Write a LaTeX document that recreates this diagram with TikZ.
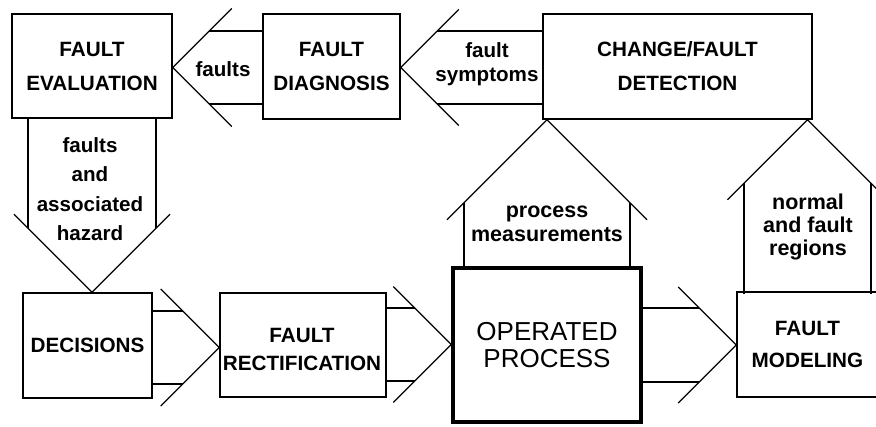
\documentclass[tikz,border=0pt]{standalone}
\usepackage{fontspec}
\setmainfont{Liberation Sans}
\usetikzlibrary{calc}
\begin{document}
\begin{tikzpicture}[x=1pt,y=-1pt,
  box/.style={draw, line width=1.6pt, inner sep=0pt, align=center,
    font=\bfseries\fontsize{20.7}{34}\selectfont},
  lbl/.style={inner sep=0pt, align=center,
    font=\bfseries\fontsize{20.6}{24}\selectfont},
  shaft/.style={line width=1.6pt},
  head/.style={line width=1.2pt},
  % hollow block arrow, tip at the origin, pointing along +x:
  % #1 half width of the shaft, #2 barb reach, #3 shaft length
  pics/hollow/.style n args={3}{code={
    \draw[head] (-#2,-#2) -- (0,0) -- (-#2,#2);
    \draw[shaft] (-#1,-#1) -- (-#3,-#1) (-#1,#1) -- (-#3,#1);
  }}]
\useasboundingbox (0,0) rectangle (876,426);
\clip (0,0) rectangle (876,426);

% blocks
\node[box, minimum width=160pt, minimum height=104pt] (eval) at (92,66)
  {FAULT\\EVALUATION};
\node[box, minimum width=137pt, minimum height=105pt] (diag) at (331.5,66.5)
  {FAULT\\DIAGNOSIS};
\node[box, minimum width=269pt, minimum height=105pt] (detect) at (677.5,66.5)
  {CHANGE/FAULT\\DETECTION};
\node[box, minimum width=129pt, minimum height=105pt] (decis) at (87.5,345.5)
  {DECISIONS};
\node[box, minimum width=166pt, minimum height=104pt] (rect) at (303,345) {};
\node[inner sep=0pt, align=center,
  font=\bfseries\fontsize{20.7}{28}\selectfont] (recttext) at (302,349)
  {FAULT\\RECTIFICATION};
\node[box, line width=3.4pt, minimum width=188pt, minimum height=154pt,
  font=\fontsize{26}{27}\selectfont] (proc) at (547,345)
  {OPERATED\\PROCESS};
\node[box, minimum width=141pt, minimum height=105pt,
  font=\bfseries\fontsize{20.7}{32}\selectfont] (model) at (807.5,344.5)
  {FAULT\\MODELING};

% hollow arrows between the blocks
\pic[rotate=180] at (eval.east |- 0,67.5) {hollow={36.5}{59}{91}};
\pic[rotate=180] at (diag.east |- 0,67.5) {hollow={36.5}{58}{142}};
\pic[rotate=-90] at (eval.south |- decis.north) {hollow={64}{78}{173}};
\pic at (rect.west |- 0,347.5) {hollow={36.5}{58.5}{68}};
\pic at (proc.west |- 0,344.5) {hollow={36.5}{58}{66}};
\pic at (model.west |- 0,345) {hollow={37}{58}{95}};
\pic[rotate=90] at (proc.north |- detect.south) {hollow={83}{100}{149}};
\pic[rotate=90] at (model.north |- detect.south) {hollow={63.5}{80}{174}};

% arrow labels
\node[lbl] (lfaults) at (223,69) {faults};
\node[lbl] (lsympt) at (487,64) {fault\\symptoms};
\node[lbl, font=\bfseries\fontsize{20.6}{29.3}\selectfont] (lhazard) at (90,189)
  {faults\\and\\associated\\hazard};
\node[lbl, font=\bfseries\fontsize{21.5}{24}\selectfont] (lmeas) at (547,224)
  {process\\measurements};
\node[lbl, font=\bfseries\fontsize{21.5}{23}\selectfont] (lregions) at (808,227)
  {normal\\and fault\\regions};
\end{tikzpicture}
\end{document}
